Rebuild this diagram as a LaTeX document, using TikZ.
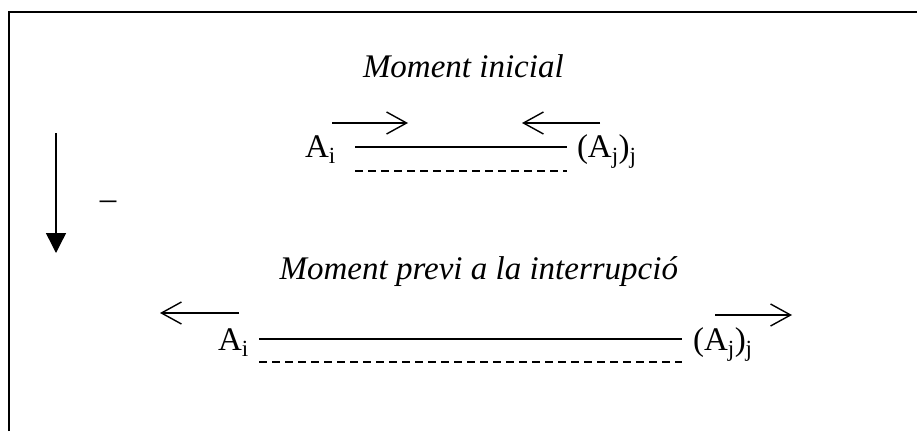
\documentclass[tikz,border=0pt]{standalone}
\usepackage{fontspec}
\setmainfont{Liberation Serif}
\usetikzlibrary{arrows.meta}
\tikzset{
  txt/.style={inner sep=0pt, outer sep=0pt, font=\fontsize{33}{40}\selectfont},
  ttl/.style={txt, font=\fontsize{33}{40}\selectfont\itshape},
  thin line/.style={line width=1.4pt},
  open arrow/.style={thin line, -{Straight Barb[length=20pt,width=22pt,line width=1.4pt]}},
  fill arrow/.style={thin line, -{Triangle[length=20pt,width=20pt]}},
  dash line/.style={thin line, dash pattern=on 8pt off 5pt}
}
\begin{document}
\begin{tikzpicture}[x=1pt,y=-1pt]
\useasboundingbox (0,0) rectangle (917,431);
% frame (open to the right and bottom)
\coordinate (fb) at (9,431);
\coordinate (fc) at (9,12);
\coordinate (fr) at (917,12);
\draw[line width=2pt] (fb) -- (fc) -- (fr);

% time arrow
\coordinate (ts) at (56,133);
\coordinate (te) at (56,253);
\draw[fill arrow] (ts) -- (te);
\node[txt, anchor=base] (minus) at (108,209) {–};

% initial moment
\node[ttl, anchor=base west] (t1) at (363,77) {Moment inicial};
\node[txt, anchor=base west] (ai1) at (305,157) {A\textsubscript{i}};
\node[txt, anchor=base west] (aj1) at (577,157) {(A\textsubscript{j})\textsubscript{j}};
\coordinate (s1a) at (355,147); \coordinate (s1b) at (567,147);
\coordinate (d1a) at (355,171); \coordinate (d1b) at (567,171);
\draw[thin line] (s1a) -- (s1b);
\draw[dash line] (d1a) -- (d1b);
\coordinate (r1a) at (332,123); \coordinate (r1b) at (408,123);
\coordinate (l1a) at (600,123); \coordinate (l1b) at (522,123);
\draw[open arrow] (r1a) -- (r1b);
\draw[open arrow] (l1a) -- (l1b);

% moment before interruption
\node[ttl, anchor=base east] (t2) at (678,279) {Moment previ a la interrupció};
\node[txt, anchor=base west] (ai2) at (218,350) {A\textsubscript{i}};
\node[txt, anchor=base west] (aj2) at (693,350) {(A\textsubscript{j})\textsubscript{j}};
\coordinate (s2a) at (259,339); \coordinate (s2b) at (682,339);
\coordinate (d2a) at (259,362); \coordinate (d2b) at (682,362);
\draw[thin line] (s2a) -- (s2b);
\draw[dash line] (d2a) -- (d2b);
\coordinate (l2a) at (239,313); \coordinate (l2b) at (160,313);
\coordinate (r2a) at (715,315); \coordinate (r2b) at (792,315);
\draw[open arrow] (l2a) -- (l2b);
\draw[open arrow] (r2a) -- (r2b);
\end{tikzpicture}
\end{document}
